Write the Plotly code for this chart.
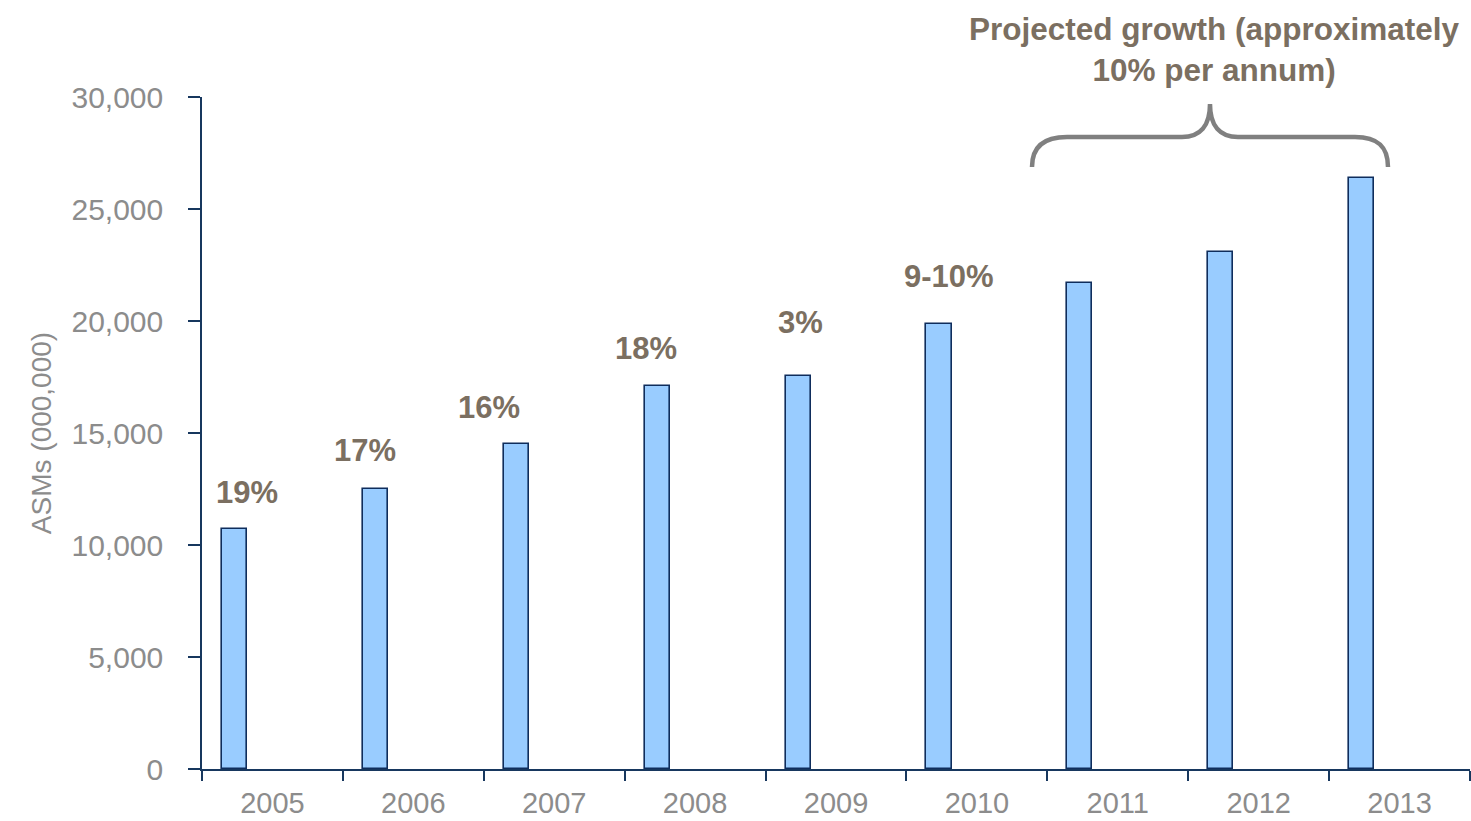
import plotly.graph_objects as go

# ---- data ----
years = ["2005", "2006", "2007", "2008", "2009", "2010", "2011", "2012", "2013"]
asms = [10700, 12500, 14500, 17100, 17550, 19850, 21700, 23100, 26400]
growth_labels = ["19%", "17%", "16%", "18%", "3%", "9-10%"]
y_ticks = [0, 5000, 10000, 15000, 20000, 25000, 30000]
projection_text = "Projected growth (approximately<br>10% per annum)"
y_title = "ASMs (000,000)"

# ---- layout constants (pixels) ----
W, H = 1471, 821
L, R, T, B = 202, 1, 97, 52
plot_w = W - L - R
plot_h = H - T - B

BAR_OFFSET = -0.358
BAR_WIDTH = 0.178
bar_center = BAR_OFFSET + BAR_WIDTH / 2

# label shifts relative to bar top center (pixels)
label_xshift = [12, -10, -27, -11, 2, 10]
label_yshift = [37, 39, 37, 37, 53, 48]

LABEL_COLOR = "#7B6F61"
TICK_COLOR = "#8C8C8C"
AXIS_COLOR = "#17375E"
FONT = "Liberation Sans, Arial, sans-serif"

fig = go.Figure()
fig.add_trace(go.Bar(
    x=years, y=asms,
    offset=BAR_OFFSET, width=BAR_WIDTH,
    marker=dict(color="#99CCFF", line=dict(color="#0F2D5C", width=1.6)),
    hoverinfo="x+y", showlegend=False,
))

annotations = []
for i, lab in enumerate(growth_labels):
    annotations.append(dict(
        x=i + bar_center, y=asms[i], xref="x", yref="y",
        text="<b>" + lab + "</b>", showarrow=False,
        xshift=label_xshift[i], yshift=label_yshift[i],
        font=dict(family=FONT, size=31, color=LABEL_COLOR),
    ))


def px(xp):
    return (xp - L) / plot_w


def py(yp):
    return ((H - B) - yp) / plot_h


annotations.append(dict(
    x=px(1214), y=py(49),
    xref="paper", yref="paper", text="<b>" + projection_text + "</b>",
    showarrow=False, align="center", xanchor="center", yanchor="middle",
    font=dict(family=FONT, size=31.5, color=LABEL_COLOR),
))

brace_pts = [
    ("M", [(1032, 167)]),
    ("C", [(1032, 146), (1045, 137), (1067, 137)]),
    ("L", [(1182, 137)]),
    ("C", [(1200, 137), (1210, 126), (1210, 104)]),
    ("C", [(1210, 126), (1220, 137), (1238, 137)]),
    ("L", [(1355, 137)]),
    ("C", [(1377, 137), (1388, 146), (1388, 167)]),
]
path = " ".join(
    cmd + " " + " ".join(f"{px(a):.5f},{py(b):.5f}" for a, b in pts)
    for cmd, pts in brace_pts
)

fig.update_layout(
    width=W, height=H,
    margin=dict(l=L, r=R, t=T, b=B, autoexpand=False),
    paper_bgcolor="white", plot_bgcolor="white",
    font=dict(family=FONT),
    bargap=0,
    annotations=annotations,
    shapes=[dict(type="path", path=path, xref="paper", yref="paper",
                 line=dict(color="#808080", width=4.5), layer="above")],
    xaxis=dict(
        type="category", tickson="boundaries",
        range=[-0.5, len(years) - 0.5],
        showline=True, linecolor=AXIS_COLOR, linewidth=1.5,
        ticks="outside", ticklen=10, tickcolor=AXIS_COLOR, tickwidth=1.5,
        showgrid=False, zeroline=False,
        tickfont=dict(family=FONT, size=29, color=TICK_COLOR),
        ticklabelstandoff=7,
    ),
    yaxis=dict(
        range=[0, 30000], tickmode="array", tickvals=y_ticks,
        ticktext=[f"{v:,}" for v in y_ticks],
        showline=True, linecolor=AXIS_COLOR, linewidth=1.5,
        ticks="outside", ticklen=12, tickcolor=AXIS_COLOR, tickwidth=1.5,
        showgrid=False, zeroline=False,
        tickfont=dict(family=FONT, size=30, color=TICK_COLOR),
        ticklabelstandoff=19,
        title=dict(text=y_title, standoff=12,
                   font=dict(family=FONT, size=28, color=TICK_COLOR)),
    ),
)

fig.write_html("out.html")
